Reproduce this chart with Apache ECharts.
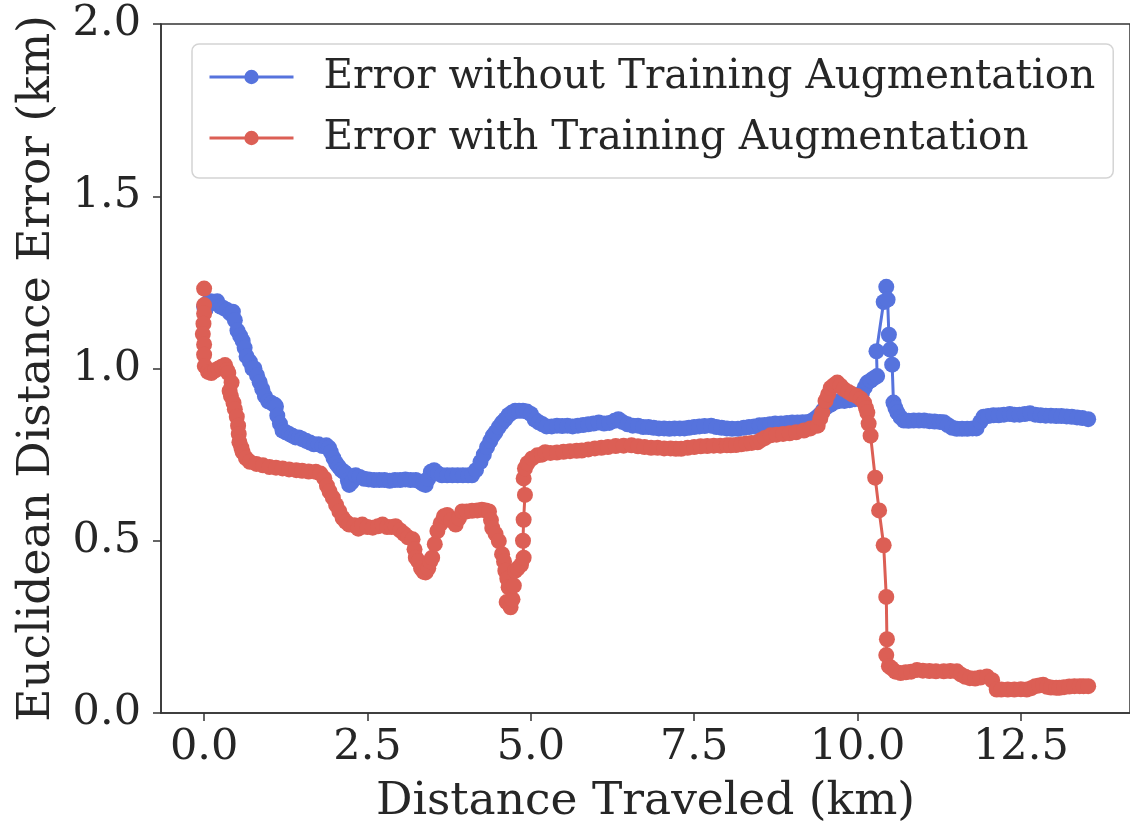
<!DOCTYPE html>
<html>
<head>
<meta charset="utf-8">
<script src="https://cdn.jsdelivr.net/npm/echarts@6/dist/echarts.min.js"></script>
<style>
html,body{margin:0;padding:0;background:#fff;}
#chart{width:1130px;height:830px;}
</style>
</head>
<body>
<div id="chart"></div>
<script>
// ---- data ----
const seriesNames = ['Error without Training Augmentation', 'Error with Training Augmentation'];

const blueX = [0.00,0.02,0.05,0.10,0.15,0.20,0.25,0.30,0.35,0.40,0.44,0.47,0.51,0.55,0.59,0.62,0.65,0.70,0.74,0.77,0.81,0.85,0.89,0.93,0.98,1.03,1.08,1.10,1.12,1.16,1.20,1.25,1.30,1.35,1.40,1.45,1.50,1.56,1.62,1.68,1.75,1.81,1.87,1.91,1.94,1.98,2.02,2.06,2.10,2.14,2.17,2.20,2.22,2.26,2.32,2.38,2.45,2.52,2.60,2.68,2.76,2.84,2.92,3.00,3.08,3.16,3.24,3.30,3.35,3.39,3.43,3.47,3.52,3.58,3.64,3.72,3.80,3.88,3.96,4.04,4.10,4.16,4.23,4.28,4.33,4.38,4.42,4.46,4.51,4.56,4.61,4.66,4.71,4.76,4.82,4.88,4.94,5.00,5.06,5.12,5.18,5.24,5.32,5.40,5.48,5.56,5.64,5.72,5.80,5.88,5.96,6.04,6.12,6.20,6.28,6.34,6.40,6.48,6.56,6.64,6.72,6.80,6.88,6.96,7.04,7.12,7.20,7.28,7.35,7.42,7.50,7.58,7.66,7.76,7.84,7.92,8.00,8.08,8.17,8.26,8.34,8.42,8.50,8.58,8.66,8.74,8.83,8.92,9.00,9.08,9.16,9.24,9.30,9.36,9.42,9.47,9.52,9.59,9.66,9.72,9.80,9.88,9.96,10.02,10.07,10.11,10.15,10.20,10.25,10.30,10.29,10.40,10.44,10.46,10.48,10.50,10.53,10.55,10.58,10.61,10.66,10.71,10.78,10.86,10.94,11.02,11.10,11.18,11.26,11.32,11.38,11.45,11.52,11.60,11.68,11.76,11.82,11.88,11.93,12.00,12.08,12.16,12.24,12.33,12.40,12.48,12.56,12.64,12.72,12.80,12.88,12.96,13.04,13.12,13.20,13.28,13.36,13.44,13.53];
const blueY = [1.18,1.17,1.19,1.195,1.19,1.195,1.18,1.175,1.17,1.16,1.165,1.14,1.11,1.095,1.08,1.06,1.035,1.02,1.00,1.00,0.98,0.96,0.94,0.92,0.905,0.90,0.895,0.89,0.863,0.84,0.82,0.815,0.81,0.805,0.80,0.80,0.795,0.79,0.785,0.78,0.78,0.775,0.777,0.77,0.757,0.74,0.725,0.715,0.705,0.70,0.695,0.675,0.662,0.67,0.69,0.685,0.68,0.678,0.676,0.676,0.676,0.674,0.676,0.676,0.678,0.676,0.676,0.672,0.665,0.662,0.68,0.70,0.705,0.695,0.69,0.69,0.69,0.69,0.69,0.69,0.69,0.705,0.729,0.75,0.772,0.79,0.805,0.815,0.83,0.843,0.853,0.865,0.872,0.877,0.877,0.877,0.875,0.868,0.852,0.844,0.838,0.832,0.832,0.834,0.833,0.834,0.832,0.834,0.836,0.838,0.840,0.843,0.840,0.842,0.848,0.853,0.845,0.838,0.834,0.834,0.830,0.830,0.828,0.826,0.826,0.825,0.826,0.826,0.826,0.828,0.830,0.832,0.833,0.834,0.830,0.828,0.826,0.825,0.825,0.828,0.830,0.832,0.835,0.836,0.838,0.840,0.840,0.842,0.843,0.843,0.844,0.845,0.848,0.856,0.866,0.878,0.887,0.895,0.903,0.906,0.906,0.908,0.911,0.915,0.93,0.945,0.959,0.965,0.972,0.978,1.05,1.193,1.237,1.20,1.098,1.055,1.011,0.901,0.885,0.872,0.858,0.849,0.848,0.849,0.849,0.849,0.847,0.846,0.845,0.844,0.836,0.828,0.825,0.825,0.825,0.826,0.826,0.845,0.860,0.862,0.864,0.864,0.866,0.868,0.866,0.866,0.868,0.870,0.866,0.864,0.863,0.863,0.862,0.862,0.861,0.860,0.858,0.856,0.853];

const redX = [0.00,0.00,0.00,-0.01,-0.02,0.00,0.00,0.01,0.06,0.11,0.17,0.22,0.27,0.32,0.35,0.37,0.42,0.39,0.41,0.45,0.47,0.50,0.52,0.53,0.54,0.57,0.59,0.64,0.70,0.80,0.90,1.00,1.10,1.20,1.30,1.41,1.50,1.60,1.71,1.78,1.84,1.88,1.92,1.97,2.02,2.07,2.12,2.17,2.22,2.30,2.36,2.42,2.50,2.58,2.66,2.73,2.80,2.87,2.93,3.00,3.06,3.12,3.19,3.22,3.24,3.28,3.32,3.36,3.39,3.43,3.46,3.49,3.53,3.57,3.62,3.67,3.72,3.78,3.85,3.90,3.95,4.02,4.10,4.18,4.25,4.31,4.36,4.39,4.41,4.46,4.51,4.56,4.59,4.61,4.64,4.66,4.63,4.69,4.72,4.74,4.76,4.80,4.85,4.89,4.88,4.89,4.91,4.89,4.91,4.95,5.02,5.10,5.17,5.22,5.30,5.40,5.50,5.60,5.70,5.78,5.88,5.98,6.08,6.18,6.30,6.42,6.54,6.64,6.74,6.84,6.94,7.04,7.14,7.22,7.30,7.40,7.50,7.60,7.70,7.80,7.90,8.00,8.06,8.14,8.22,8.30,8.38,8.47,8.52,8.58,8.67,8.76,8.86,8.96,9.06,9.18,9.28,9.39,9.43,9.46,9.51,9.55,9.59,9.64,9.69,9.74,9.79,9.86,9.92,9.99,10.05,10.10,10.13,10.15,10.17,10.20,10.27,10.33,10.40,10.44,10.45,10.44,10.48,10.52,10.58,10.66,10.74,10.82,10.91,11.00,11.10,11.20,11.32,11.42,11.52,11.58,11.65,11.72,11.80,11.88,11.98,12.06,12.13,12.20,12.30,12.40,12.50,12.59,12.66,12.72,12.78,12.84,12.90,12.96,13.04,13.09,13.16,13.24,13.32,13.40,13.46,13.53];
const redY = [1.232,1.184,1.16,1.13,1.10,1.07,1.04,1.007,0.99,0.987,0.995,1.00,1.005,1.01,0.995,0.987,0.959,0.935,0.92,0.90,0.882,0.86,0.834,0.81,0.786,0.77,0.757,0.74,0.729,0.723,0.719,0.714,0.712,0.710,0.707,0.705,0.703,0.701,0.700,0.695,0.681,0.66,0.643,0.625,0.604,0.585,0.566,0.555,0.547,0.545,0.535,0.547,0.540,0.538,0.542,0.547,0.540,0.540,0.542,0.53,0.52,0.51,0.504,0.475,0.451,0.44,0.42,0.41,0.408,0.42,0.44,0.451,0.49,0.528,0.55,0.571,0.575,0.56,0.547,0.565,0.585,0.585,0.587,0.588,0.590,0.588,0.585,0.56,0.537,0.52,0.499,0.461,0.44,0.413,0.39,0.365,0.322,0.307,0.33,0.370,0.413,0.42,0.43,0.451,0.50,0.561,0.633,0.681,0.710,0.725,0.739,0.748,0.750,0.757,0.755,0.756,0.758,0.760,0.761,0.762,0.765,0.768,0.770,0.772,0.775,0.776,0.777,0.774,0.772,0.770,0.770,0.768,0.768,0.767,0.767,0.770,0.772,0.774,0.775,0.776,0.776,0.777,0.777,0.778,0.780,0.782,0.784,0.786,0.792,0.798,0.806,0.808,0.810,0.812,0.815,0.820,0.826,0.834,0.855,0.872,0.906,0.925,0.944,0.952,0.959,0.950,0.940,0.932,0.925,0.920,0.912,0.901,0.885,0.872,0.84,0.805,0.683,0.588,0.487,0.337,0.214,0.168,0.136,0.13,0.12,0.116,0.118,0.120,0.125,0.123,0.122,0.121,0.121,0.122,0.121,0.112,0.105,0.101,0.100,0.103,0.106,0.095,0.068,0.068,0.068,0.068,0.069,0.068,0.072,0.078,0.080,0.082,0.076,0.074,0.073,0.073,0.075,0.077,0.078,0.078,0.078,0.078];

const xTicks = [0.0, 2.5, 5.0, 7.5, 10.0, 12.5];
const yTicks = [0.0, 0.5, 1.0, 1.5, 2.0];

const zip = (xs, ys) => xs.map((x, i) => [x, ys[i]]);

const FONT = 'DejaVu Serif';
const TXT = '#262626';
const BLUE = '#5673dd';
const RED = '#dc5f55';

const chart = echarts.init(document.getElementById('chart'), null, {renderer: 'canvas'});
chart.setOption({
  animation: false,
  backgroundColor: '#ffffff',
  textStyle: {fontFamily: FONT, color: TXT},
  grid: {left: 161, top: 24, width: 973, height: 696, show: true, borderColor: '#333', borderWidth: 1.5, containLabel: false},
  xAxis: {
    type: 'value', min: -0.66, max: 14.17,
    name: 'Distance Traveled (km)', nameLocation: 'middle', nameGap: 66,
    nameTextStyle: {fontFamily: FONT, fontSize: 45.5, color: TXT},
    axisLine: {show: true, onZero: false, lineStyle: {color: '#333', width: 1.5}},
    axisTick: {show: true, length: 8, lineStyle: {color: '#333', width: 1.5}, customValues: xTicks},
    axisLabel: {fontFamily: FONT, fontSize: 43, color: TXT, margin: 13, customValues: xTicks,
      formatter: v => v.toFixed(1)},
    splitLine: {show: false}
  },
  yAxis: {
    type: 'value', min: 0, max: 2.0, interval: 0.5,
    name: 'Euclidean Distance Error (km)', nameLocation: 'middle', nameGap: 101,
    nameTextStyle: {fontFamily: FONT, fontSize: 45.5, color: TXT},
    axisLine: {show: true, onZero: false, lineStyle: {color: '#333', width: 1.5}},
    axisTick: {show: true, length: 8, lineStyle: {color: '#333', width: 1.5}, customValues: yTicks},
    axisLabel: {fontFamily: FONT, fontSize: 43, color: TXT, margin: 20, customValues: yTicks,
      formatter: v => v.toFixed(1)},
    splitLine: {show: false}
  },
  legend: {
    orient: 'vertical', left: 192, top: 44,
    padding: [9, 18, 16, 16],
    itemGap: 13, itemWidth: 84, itemHeight: 18,
    backgroundColor: 'rgba(255,255,255,0.9)', borderColor: '#d4d4d4', borderWidth: 1.5, borderRadius: 7,
    lineStyle: {width: 3},
    textStyle: {fontFamily: FONT, fontSize: 40.5, color: TXT, lineHeight: 48, padding: [0, 0, 0, 25]},
    data: seriesNames
  },
  series: [
    {name: seriesNames[0], type: 'line', data: zip(blueX, blueY), color: BLUE,
     symbol: 'circle', symbolSize: 16, showSymbol: true, showAllSymbol: true,
     lineStyle: {width: 3, color: BLUE}, itemStyle: {color: BLUE}},
    {name: seriesNames[1], type: 'line', data: zip(redX, redY), color: RED,
     symbol: 'circle', symbolSize: 16, showSymbol: true, showAllSymbol: true,
     lineStyle: {width: 3, color: RED}, itemStyle: {color: RED}}
  ]
});
</script>
</body>
</html>
